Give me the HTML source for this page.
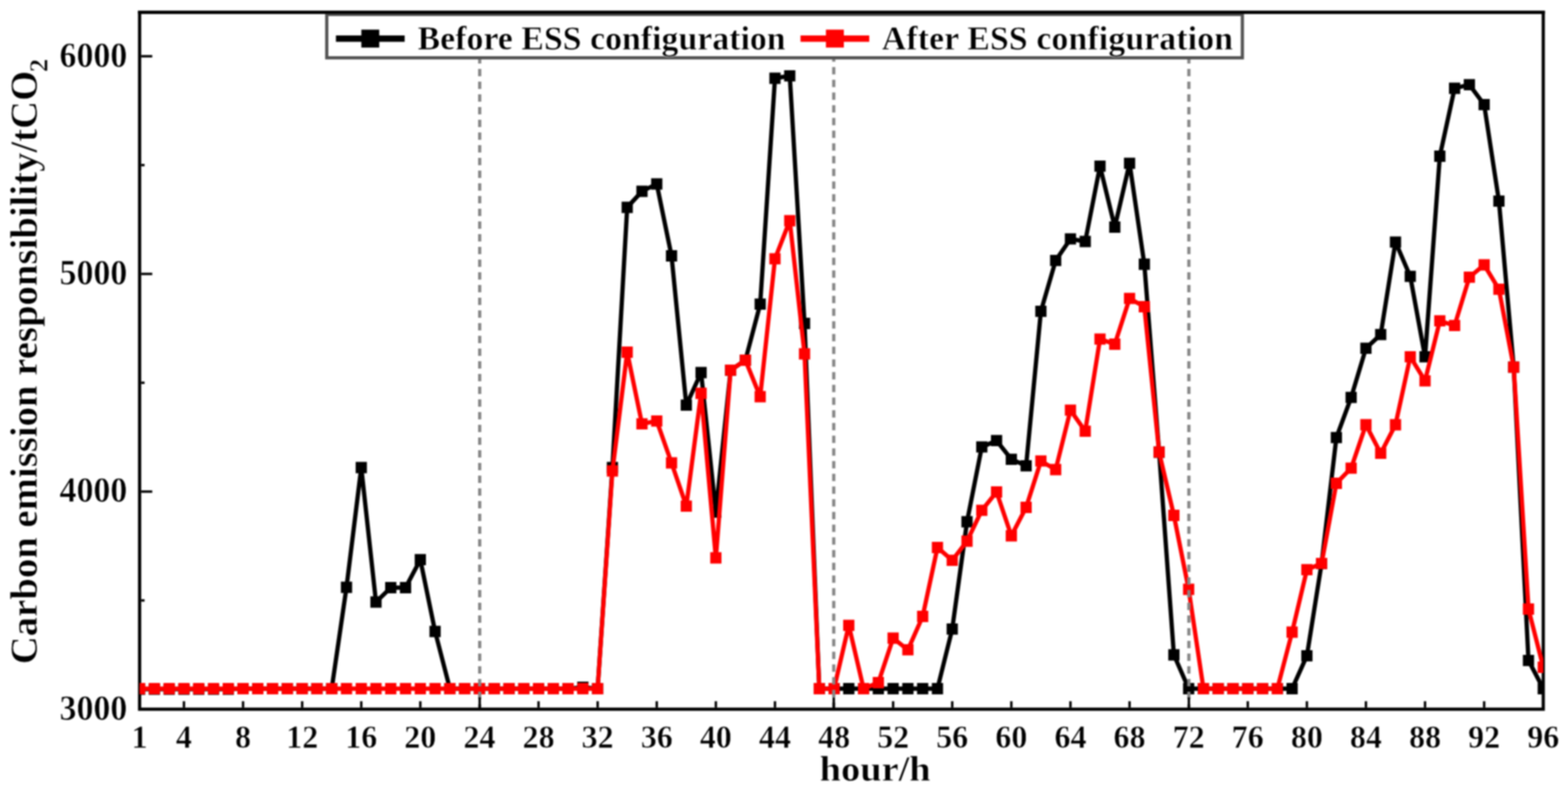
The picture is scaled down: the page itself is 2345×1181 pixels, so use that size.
<!DOCTYPE html>
<html lang="en">
<head>
<meta charset="utf-8">
<title>Carbon emission responsibility before and after ESS configuration</title>
<style>
html,body{margin:0;padding:0;background:#fff;}
body{width:2345px;height:1181px;overflow:hidden;}
svg{display:block;filter:blur(1px);}
.t{font-family:"Liberation Serif",serif;font-weight:bold;fill:#000;stroke:#fff;stroke-width:0.7px;stroke-linejoin:round;}
.ln{fill:none;stroke-width:6.4;stroke-linejoin:round;stroke-linecap:round;}
.fr{fill:none;stroke:#000;stroke-width:4.8;}
.lg{fill:#fff;stroke:#525252;stroke-width:4.8;}
.tk line{stroke:#000;stroke-width:3.6;}
.dash line{stroke:#868686;stroke-width:4.8;stroke-dasharray:11 8;}
</style>
</head>
<body>
<svg width="2345" height="1181" viewBox="0 0 2345 1181">
<rect width="2345" height="1181" fill="#fff"/>
<defs><clipPath id="plot"><rect x="208.8" y="18.3" width="2099.2" height="1041.9"/></clipPath></defs>
<g class="tk">
<line x1="211.20000000000002" y1="84.1" x2="227.70000000000002" y2="84.1"/>
<line x1="211.20000000000002" y1="409.5" x2="227.70000000000002" y2="409.5"/>
<line x1="211.20000000000002" y1="734.9" x2="227.70000000000002" y2="734.9"/>
<line x1="211.20000000000002" y1="246.8" x2="216.20000000000002" y2="246.8"/>
<line x1="211.20000000000002" y1="572.2" x2="216.20000000000002" y2="572.2"/>
<line x1="211.20000000000002" y1="897.6" x2="216.20000000000002" y2="897.6"/>
<line x1="275.1" y1="1057.8" x2="275.1" y2="1048.3"/>
<line x1="363.5" y1="1057.8" x2="363.5" y2="1048.3"/>
<line x1="451.9" y1="1057.8" x2="451.9" y2="1048.3"/>
<line x1="540.3" y1="1057.8" x2="540.3" y2="1048.3"/>
<line x1="628.6" y1="1057.8" x2="628.6" y2="1048.3"/>
<line x1="805.4" y1="1057.8" x2="805.4" y2="1048.3"/>
<line x1="893.8" y1="1057.8" x2="893.8" y2="1048.3"/>
<line x1="982.2" y1="1057.8" x2="982.2" y2="1048.3"/>
<line x1="1070.6" y1="1057.8" x2="1070.6" y2="1048.3"/>
<line x1="1159.0" y1="1057.8" x2="1159.0" y2="1048.3"/>
<line x1="1335.7" y1="1057.8" x2="1335.7" y2="1048.3"/>
<line x1="1424.1" y1="1057.8" x2="1424.1" y2="1048.3"/>
<line x1="1512.5" y1="1057.8" x2="1512.5" y2="1048.3"/>
<line x1="1600.9" y1="1057.8" x2="1600.9" y2="1048.3"/>
<line x1="1689.3" y1="1057.8" x2="1689.3" y2="1048.3"/>
<line x1="1866.1" y1="1057.8" x2="1866.1" y2="1048.3"/>
<line x1="1954.5" y1="1057.8" x2="1954.5" y2="1048.3"/>
<line x1="2042.8" y1="1057.8" x2="2042.8" y2="1048.3"/>
<line x1="2131.2" y1="1057.8" x2="2131.2" y2="1048.3"/>
<line x1="2219.6" y1="1057.8" x2="2219.6" y2="1048.3"/>
</g>
<rect class="fr" x="208.8" y="18.3" width="2099.2" height="1041.9"/>
<g clip-path="url(#plot)">
<polyline class="ln" stroke="#000" points="208.8,1030.4 230.9,1030.4 253.0,1030.4 275.1,1030.4 297.2,1030.4 319.3,1030.4 341.4,1030.4 363.5,1029.5 385.6,1029.5 407.7,1029.5 429.8,1029.5 451.9,1029.5 474.0,1029.5 496.1,1029.5 518.2,878.0 540.3,699.0 562.3,900.0 584.4,878.5 606.5,878.5 628.6,836.7 650.7,944.0 672.8,1029.5 694.9,1029.5 717.0,1029.5 739.1,1029.5 761.2,1029.5 783.3,1029.5 805.4,1029.5 827.5,1029.5 849.6,1029.5 871.7,1027.5 893.8,1029.5 915.9,699.0 938.0,310.0 960.1,286.0 982.2,275.0 1004.3,382.5 1026.4,605.7 1048.5,557.0 1070.6,765.5 1092.7,553.4 1114.8,538.5 1136.9,454.6 1159.0,117.0 1181.1,113.3 1203.2,483.5 1225.3,1029.5 1247.4,1029.5 1269.4,1029.5 1291.5,1029.5 1313.6,1029.5 1335.7,1029.5 1357.8,1029.5 1379.9,1029.5 1402.0,1029.5 1424.1,940.4 1446.2,780.0 1468.3,668.2 1490.4,658.7 1512.5,686.6 1534.6,696.3 1556.7,465.4 1578.8,389.4 1600.9,357.2 1623.0,361.0 1645.1,248.4 1667.2,339.5 1689.3,244.1 1711.4,395.0 1733.5,676.0 1755.6,979.0 1777.7,1029.5 1799.8,1029.5 1821.9,1029.5 1844.0,1029.5 1866.1,1029.5 1888.2,1029.5 1910.3,1029.5 1932.4,1029.5 1954.5,980.4 1976.5,842.3 1998.6,654.2 2020.7,594.2 2042.8,520.6 2064.9,500.2 2087.0,361.8 2109.1,413.2 2131.2,533.4 2153.3,233.5 2175.4,132.0 2197.5,126.6 2219.6,156.3 2241.7,300.6 2263.8,548.8 2285.9,987.3 2308.0,1029.5"/>
<path fill="#000" d="M200.4 1022.0h16.8v16.8h-16.8zM222.5 1022.0h16.8v16.8h-16.8zM244.6 1022.0h16.8v16.8h-16.8zM266.7 1022.0h16.8v16.8h-16.8zM288.8 1022.0h16.8v16.8h-16.8zM310.9 1022.0h16.8v16.8h-16.8zM333.0 1022.0h16.8v16.8h-16.8zM355.1 1021.1h16.8v16.8h-16.8zM377.2 1021.1h16.8v16.8h-16.8zM399.3 1021.1h16.8v16.8h-16.8zM421.4 1021.1h16.8v16.8h-16.8zM443.5 1021.1h16.8v16.8h-16.8zM465.6 1021.1h16.8v16.8h-16.8zM487.7 1021.1h16.8v16.8h-16.8zM509.8 869.6h16.8v16.8h-16.8zM531.9 690.6h16.8v16.8h-16.8zM553.9 891.6h16.8v16.8h-16.8zM576.0 870.1h16.8v16.8h-16.8zM598.1 870.1h16.8v16.8h-16.8zM620.2 828.3h16.8v16.8h-16.8zM642.3 935.6h16.8v16.8h-16.8zM664.4 1021.1h16.8v16.8h-16.8zM686.5 1021.1h16.8v16.8h-16.8zM708.6 1021.1h16.8v16.8h-16.8zM730.7 1021.1h16.8v16.8h-16.8zM752.8 1021.1h16.8v16.8h-16.8zM774.9 1021.1h16.8v16.8h-16.8zM797.0 1021.1h16.8v16.8h-16.8zM819.1 1021.1h16.8v16.8h-16.8zM841.2 1021.1h16.8v16.8h-16.8zM863.3 1019.1h16.8v16.8h-16.8zM885.4 1021.1h16.8v16.8h-16.8zM907.5 690.6h16.8v16.8h-16.8zM929.6 301.6h16.8v16.8h-16.8zM951.7 277.6h16.8v16.8h-16.8zM973.8 266.6h16.8v16.8h-16.8zM995.9 374.1h16.8v16.8h-16.8zM1018.0 597.3h16.8v16.8h-16.8zM1040.1 548.6h16.8v16.8h-16.8zM1062.2 757.1h16.8v16.8h-16.8zM1084.3 545.0h16.8v16.8h-16.8zM1106.4 530.1h16.8v16.8h-16.8zM1128.5 446.2h16.8v16.8h-16.8zM1150.6 108.6h16.8v16.8h-16.8zM1172.7 104.9h16.8v16.8h-16.8zM1194.8 475.1h16.8v16.8h-16.8zM1216.9 1021.1h16.8v16.8h-16.8zM1239.0 1021.1h16.8v16.8h-16.8zM1261.0 1021.1h16.8v16.8h-16.8zM1283.1 1021.1h16.8v16.8h-16.8zM1305.2 1021.1h16.8v16.8h-16.8zM1327.3 1021.1h16.8v16.8h-16.8zM1349.4 1021.1h16.8v16.8h-16.8zM1371.5 1021.1h16.8v16.8h-16.8zM1393.6 1021.1h16.8v16.8h-16.8zM1415.7 932.0h16.8v16.8h-16.8zM1437.8 771.6h16.8v16.8h-16.8zM1459.9 659.8h16.8v16.8h-16.8zM1482.0 650.3h16.8v16.8h-16.8zM1504.1 678.2h16.8v16.8h-16.8zM1526.2 687.9h16.8v16.8h-16.8zM1548.3 457.0h16.8v16.8h-16.8zM1570.4 381.0h16.8v16.8h-16.8zM1592.5 348.8h16.8v16.8h-16.8zM1614.6 352.6h16.8v16.8h-16.8zM1636.7 240.0h16.8v16.8h-16.8zM1658.8 331.1h16.8v16.8h-16.8zM1680.9 235.7h16.8v16.8h-16.8zM1703.0 386.6h16.8v16.8h-16.8zM1725.1 667.6h16.8v16.8h-16.8zM1747.2 970.6h16.8v16.8h-16.8zM1769.3 1021.1h16.8v16.8h-16.8zM1791.4 1021.1h16.8v16.8h-16.8zM1813.5 1021.1h16.8v16.8h-16.8zM1835.6 1021.1h16.8v16.8h-16.8zM1857.7 1021.1h16.8v16.8h-16.8zM1879.8 1021.1h16.8v16.8h-16.8zM1901.9 1021.1h16.8v16.8h-16.8zM1924.0 1021.1h16.8v16.8h-16.8zM1946.1 972.0h16.8v16.8h-16.8zM1968.1 833.9h16.8v16.8h-16.8zM1990.2 645.8h16.8v16.8h-16.8zM2012.3 585.8h16.8v16.8h-16.8zM2034.4 512.2h16.8v16.8h-16.8zM2056.5 491.8h16.8v16.8h-16.8zM2078.6 353.4h16.8v16.8h-16.8zM2100.7 404.8h16.8v16.8h-16.8zM2122.8 525.0h16.8v16.8h-16.8zM2144.9 225.1h16.8v16.8h-16.8zM2167.0 123.6h16.8v16.8h-16.8zM2189.1 118.2h16.8v16.8h-16.8zM2211.2 147.9h16.8v16.8h-16.8zM2233.3 292.2h16.8v16.8h-16.8zM2255.4 540.4h16.8v16.8h-16.8zM2277.5 978.9h16.8v16.8h-16.8zM2299.6 1021.1h16.8v16.8h-16.8z"/>
<polyline class="ln" stroke="#ff0000" points="208.8,1029.5 230.9,1029.5 253.0,1029.5 275.1,1029.5 297.2,1029.5 319.3,1029.5 341.4,1029.5 363.5,1029.5 385.6,1029.5 407.7,1029.5 429.8,1029.5 451.9,1029.5 474.0,1029.5 496.1,1029.5 518.2,1029.5 540.3,1029.5 562.3,1029.5 584.4,1029.5 606.5,1029.5 628.6,1029.5 650.7,1029.5 672.8,1029.5 694.9,1029.5 717.0,1029.5 739.1,1029.5 761.2,1029.5 783.3,1029.5 805.4,1029.5 827.5,1029.5 849.6,1029.5 871.7,1029.5 893.8,1029.5 915.9,704.0 938.0,526.5 960.1,633.7 982.2,629.4 1004.3,692.0 1026.4,756.6 1048.5,588.0 1070.6,834.0 1092.7,553.4 1114.8,538.5 1136.9,593.0 1159.0,386.8 1181.1,330.0 1203.2,529.0 1225.3,1029.5 1247.4,1029.5 1269.4,934.8 1291.5,1029.5 1313.6,1020.5 1335.7,954.0 1357.8,971.4 1379.9,921.5 1402.0,818.5 1424.1,837.6 1446.2,809.0 1468.3,762.9 1490.4,735.5 1512.5,801.0 1534.6,758.5 1556.7,689.2 1578.8,702.0 1600.9,613.2 1623.0,644.6 1645.1,506.9 1667.2,514.5 1689.3,446.2 1711.4,458.5 1733.5,675.9 1755.6,770.5 1777.7,881.0 1799.8,1029.5 1821.9,1029.5 1844.0,1029.5 1866.1,1029.5 1888.2,1029.5 1910.3,1029.5 1932.4,945.0 1954.5,851.7 1976.5,842.3 1998.6,722.5 2020.7,699.8 2042.8,635.0 2064.9,677.7 2087.0,635.0 2109.1,533.4 2131.2,569.3 2153.3,479.7 2175.4,486.6 2197.5,414.4 2219.6,396.0 2241.7,432.4 2263.8,548.8 2285.9,910.5 2308.0,997.5"/>
<path fill="#ff0000" d="M200.4 1021.1h16.8v16.8h-16.8zM222.5 1021.1h16.8v16.8h-16.8zM244.6 1021.1h16.8v16.8h-16.8zM266.7 1021.1h16.8v16.8h-16.8zM288.8 1021.1h16.8v16.8h-16.8zM310.9 1021.1h16.8v16.8h-16.8zM333.0 1021.1h16.8v16.8h-16.8zM355.1 1021.1h16.8v16.8h-16.8zM377.2 1021.1h16.8v16.8h-16.8zM399.3 1021.1h16.8v16.8h-16.8zM421.4 1021.1h16.8v16.8h-16.8zM443.5 1021.1h16.8v16.8h-16.8zM465.6 1021.1h16.8v16.8h-16.8zM487.7 1021.1h16.8v16.8h-16.8zM509.8 1021.1h16.8v16.8h-16.8zM531.9 1021.1h16.8v16.8h-16.8zM553.9 1021.1h16.8v16.8h-16.8zM576.0 1021.1h16.8v16.8h-16.8zM598.1 1021.1h16.8v16.8h-16.8zM620.2 1021.1h16.8v16.8h-16.8zM642.3 1021.1h16.8v16.8h-16.8zM664.4 1021.1h16.8v16.8h-16.8zM686.5 1021.1h16.8v16.8h-16.8zM708.6 1021.1h16.8v16.8h-16.8zM730.7 1021.1h16.8v16.8h-16.8zM752.8 1021.1h16.8v16.8h-16.8zM774.9 1021.1h16.8v16.8h-16.8zM797.0 1021.1h16.8v16.8h-16.8zM819.1 1021.1h16.8v16.8h-16.8zM841.2 1021.1h16.8v16.8h-16.8zM863.3 1021.1h16.8v16.8h-16.8zM885.4 1021.1h16.8v16.8h-16.8zM907.5 695.6h16.8v16.8h-16.8zM929.6 518.1h16.8v16.8h-16.8zM951.7 625.3h16.8v16.8h-16.8zM973.8 621.0h16.8v16.8h-16.8zM995.9 683.6h16.8v16.8h-16.8zM1018.0 748.2h16.8v16.8h-16.8zM1040.1 579.6h16.8v16.8h-16.8zM1062.2 825.6h16.8v16.8h-16.8zM1084.3 545.0h16.8v16.8h-16.8zM1106.4 530.1h16.8v16.8h-16.8zM1128.5 584.6h16.8v16.8h-16.8zM1150.6 378.4h16.8v16.8h-16.8zM1172.7 321.6h16.8v16.8h-16.8zM1194.8 520.6h16.8v16.8h-16.8zM1216.9 1021.1h16.8v16.8h-16.8zM1239.0 1021.1h16.8v16.8h-16.8zM1261.0 926.4h16.8v16.8h-16.8zM1283.1 1021.1h16.8v16.8h-16.8zM1305.2 1012.1h16.8v16.8h-16.8zM1327.3 945.6h16.8v16.8h-16.8zM1349.4 963.0h16.8v16.8h-16.8zM1371.5 913.1h16.8v16.8h-16.8zM1393.6 810.1h16.8v16.8h-16.8zM1415.7 829.2h16.8v16.8h-16.8zM1437.8 800.6h16.8v16.8h-16.8zM1459.9 754.5h16.8v16.8h-16.8zM1482.0 727.1h16.8v16.8h-16.8zM1504.1 792.6h16.8v16.8h-16.8zM1526.2 750.1h16.8v16.8h-16.8zM1548.3 680.8h16.8v16.8h-16.8zM1570.4 693.6h16.8v16.8h-16.8zM1592.5 604.8h16.8v16.8h-16.8zM1614.6 636.2h16.8v16.8h-16.8zM1636.7 498.5h16.8v16.8h-16.8zM1658.8 506.1h16.8v16.8h-16.8zM1680.9 437.8h16.8v16.8h-16.8zM1703.0 450.1h16.8v16.8h-16.8zM1725.1 667.5h16.8v16.8h-16.8zM1747.2 762.1h16.8v16.8h-16.8zM1769.3 872.6h16.8v16.8h-16.8zM1791.4 1021.1h16.8v16.8h-16.8zM1813.5 1021.1h16.8v16.8h-16.8zM1835.6 1021.1h16.8v16.8h-16.8zM1857.7 1021.1h16.8v16.8h-16.8zM1879.8 1021.1h16.8v16.8h-16.8zM1901.9 1021.1h16.8v16.8h-16.8zM1924.0 936.6h16.8v16.8h-16.8zM1946.1 843.3h16.8v16.8h-16.8zM1968.1 833.9h16.8v16.8h-16.8zM1990.2 714.1h16.8v16.8h-16.8zM2012.3 691.4h16.8v16.8h-16.8zM2034.4 626.6h16.8v16.8h-16.8zM2056.5 669.3h16.8v16.8h-16.8zM2078.6 626.6h16.8v16.8h-16.8zM2100.7 525.0h16.8v16.8h-16.8zM2122.8 560.9h16.8v16.8h-16.8zM2144.9 471.3h16.8v16.8h-16.8zM2167.0 478.2h16.8v16.8h-16.8zM2189.1 406.0h16.8v16.8h-16.8zM2211.2 387.6h16.8v16.8h-16.8zM2233.3 424.0h16.8v16.8h-16.8zM2255.4 540.4h16.8v16.8h-16.8zM2277.5 902.1h16.8v16.8h-16.8zM2299.6 989.1h16.8v16.8h-16.8z"/>
</g>
<g class="dash">
<line x1="717.4" y1="26.9" x2="717.4" y2="1057.8"/>
<line x1="1246.9" y1="24.2" x2="1246.9" y2="1057.8"/>
<line x1="1778.0" y1="26.9" x2="1778.0" y2="1057.8"/>
</g>
<g class="tk">
<line x1="717.4" y1="1058.8" x2="717.4" y2="1042.5"/>
<line x1="1246.9" y1="1058.8" x2="1246.9" y2="1042.5"/>
<line x1="1778.0" y1="1058.8" x2="1778.0" y2="1042.5"/>
</g>
<rect class="lg" x="488.7" y="21.6" width="1369.3" height="64.80000000000001"/>
<line class="fr" x1="206.4" y1="18.3" x2="2310.4" y2="18.3"/>
<line x1="502.4" y1="57.7" x2="605.2" y2="57.7" stroke="#000" stroke-width="9.4"/>
<rect x="540.4" y="44.300000000000004" width="26.8" height="26.8" fill="#000"/>
<text class="t" transform="translate(624.6 74.3) scale(1 1.0)" font-size="50.4" textLength="550.3" lengthAdjust="spacing">Before ESS configuration</text>
<line x1="1197.2" y1="57.7" x2="1300.0" y2="57.7" stroke="#ff0000" stroke-width="9.4"/>
<rect x="1235.1999999999998" y="44.300000000000004" width="26.8" height="26.8" fill="#ff0000"/>
<text class="t" transform="translate(1318.8 74.3) scale(1 1.0)" font-size="50.4" textLength="525.2" lengthAdjust="spacing">After ESS configuration</text>
<text class="t" text-anchor="end" transform="translate(190.3 99.6) scale(1 1.045)" font-size="50.6">6000</text>
<text class="t" text-anchor="end" transform="translate(190.3 425.0) scale(1 1.045)" font-size="50.6">5000</text>
<text class="t" text-anchor="end" transform="translate(190.3 750.4) scale(1 1.045)" font-size="50.6">4000</text>
<text class="t" text-anchor="end" transform="translate(190.3 1075.8) scale(1 1.045)" font-size="50.6">3000</text>
<text class="t" text-anchor="middle" x="208.8" y="1118.3" font-size="48">1</text>
<text class="t" text-anchor="middle" x="275.1" y="1118.3" font-size="48">4</text>
<text class="t" text-anchor="middle" x="363.5" y="1118.3" font-size="48">8</text>
<text class="t" text-anchor="middle" x="451.9" y="1118.3" font-size="48">12</text>
<text class="t" text-anchor="middle" x="540.3" y="1118.3" font-size="48">16</text>
<text class="t" text-anchor="middle" x="628.6" y="1118.3" font-size="48">20</text>
<text class="t" text-anchor="middle" x="717.0" y="1118.3" font-size="48">24</text>
<text class="t" text-anchor="middle" x="805.4" y="1118.3" font-size="48">28</text>
<text class="t" text-anchor="middle" x="893.8" y="1118.3" font-size="48">32</text>
<text class="t" text-anchor="middle" x="982.2" y="1118.3" font-size="48">36</text>
<text class="t" text-anchor="middle" x="1070.6" y="1118.3" font-size="48">40</text>
<text class="t" text-anchor="middle" x="1159.0" y="1118.3" font-size="48">44</text>
<text class="t" text-anchor="middle" x="1247.4" y="1118.3" font-size="48">48</text>
<text class="t" text-anchor="middle" x="1335.7" y="1118.3" font-size="48">52</text>
<text class="t" text-anchor="middle" x="1424.1" y="1118.3" font-size="48">56</text>
<text class="t" text-anchor="middle" x="1512.5" y="1118.3" font-size="48">60</text>
<text class="t" text-anchor="middle" x="1600.9" y="1118.3" font-size="48">64</text>
<text class="t" text-anchor="middle" x="1689.3" y="1118.3" font-size="48">68</text>
<text class="t" text-anchor="middle" x="1777.7" y="1118.3" font-size="48">72</text>
<text class="t" text-anchor="middle" x="1866.1" y="1118.3" font-size="48">76</text>
<text class="t" text-anchor="middle" x="1954.5" y="1118.3" font-size="48">80</text>
<text class="t" text-anchor="middle" x="2042.8" y="1118.3" font-size="48">84</text>
<text class="t" text-anchor="middle" x="2131.2" y="1118.3" font-size="48">88</text>
<text class="t" text-anchor="middle" x="2219.6" y="1118.3" font-size="48">92</text>
<text class="t" text-anchor="middle" x="2308.0" y="1118.3" font-size="48">96</text>
<text class="t" text-anchor="middle" transform="translate(1308.8 1167.4) scale(1.02 0.95)" font-size="56.3">hour/h</text>
<text class="t" transform="translate(55.0 993.0) rotate(-90)" font-size="57.93">Carbon emission responsibility/tCO<tspan font-size="39.4" dx="-2" dy="16">2</tspan></text>
</svg>
</body>
</html>
